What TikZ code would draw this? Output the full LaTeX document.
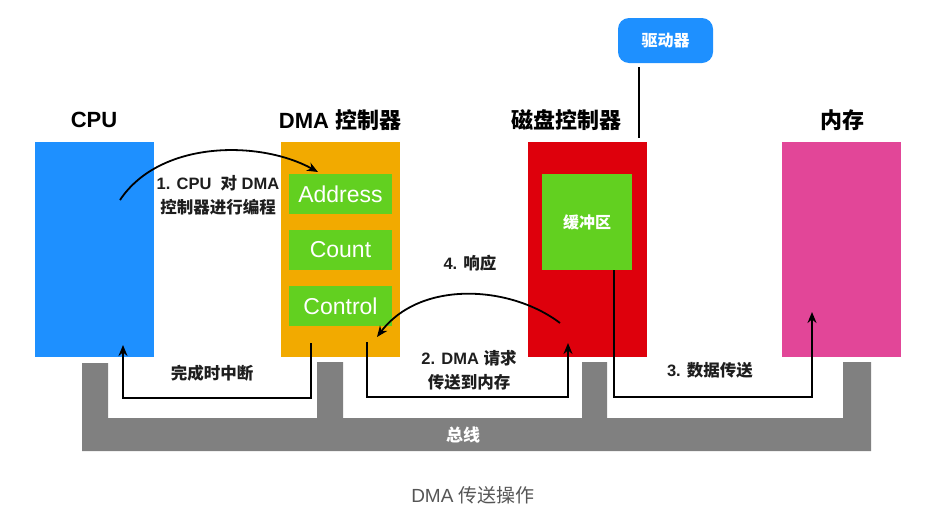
\documentclass[tikz,border=0pt]{standalone}
\usepackage{fontspec}
\setmainfont{Liberation Sans}
\newfontfamily\cjk{Noto Sans CJK SC}
\usepackage{tikz}
\usetikzlibrary{arrows.meta,positioning}
\newcommand{\zh}[1]{{\cjk #1}}
\definecolor{cpublue}{RGB}{30,144,255}
\definecolor{dmaorange}{RGB}{242,170,0}
\definecolor{regleaf}{RGB}{98,208,32}
\definecolor{diskred}{RGB}{222,0,12}
\definecolor{mempink}{RGB}{226,70,152}
\definecolor{busgray}{RGB}{128,128,128}
\definecolor{inkdark}{RGB}{30,30,30}
\definecolor{capgray}{RGB}{85,85,85}

\begin{document}
\begin{tikzpicture}[x=1pt,y=-1pt,
  unit/.style={minimum width=119pt,minimum height=215pt,inner sep=0pt},
  reg/.style={fill=regleaf,minimum width=103pt,minimum height=40pt,inner sep=0pt,text=white,font=\fontsize{23}{26}\selectfont},
  head/.style={font=\fontsize{22}{26}\selectfont\bfseries,text=black},
  lbl/.style={font=\fontsize{16.5}{24}\selectfont\bfseries,text=inkdark,align=center},
  arr/.style={-{Stealth[length=11pt,width=9pt]},line width=1.8pt},
  wire/.style={line width=1.8pt}
]
\useasboundingbox (0,0) rectangle (926,520);

% Bus
\fill[busgray] (82,363) -- (108,363) -- (108,418) -- (317,418) -- (317,362) -- (343,362)
  -- (343,418) -- (582,418) -- (582,362) -- (607,362) -- (607,418) -- (843,418)
  -- (843,362) -- (871,362) -- (871,451) -- (82,451) -- cycle;
\node[font=\fontsize{17}{20}\selectfont\bfseries,text=white] (bus) at (463,435) {\zh{总线}};

% Units
\node[unit,fill=cpublue]   (cpu)  at (94.5,249.5) {};
\node[unit,fill=dmaorange] (dma)  at (340.5,249.5) {};
\node[unit,fill=diskred]   (disk) at (587,249.5) {};
\node[unit,fill=mempink]   (mem)  at (841.5,249.5) {};
\node[head] (cpuh)  at (94,120)  {CPU};
\node[head] (dmah)  at (340,120) {DMA \zh{控制器}};
\node[head] (diskh) at (566,120) {\zh{磁盘控制器}};
\node[head] (memh)  at (842,120) {\zh{内存}};

% Registers / buffer
\node[reg] (addr) at (340.5,194) {Address};
\node[reg] (cnt)  at (340.5,250) {Count};
\node[reg] (ctrl) at (340.5,306) {Control};
\node[fill=regleaf,minimum width=90pt,minimum height=96pt,inner sep=0pt,text=white,
  font=\fontsize{16}{20}\selectfont\bfseries] (buf) at (587,222) {\zh{缓冲区}};

% Driver
\node[fill=cpublue,rounded corners=11pt,minimum width=95pt,minimum height=45pt,text=white,
  font=\fontsize{16}{20}\selectfont\bfseries] (drv) at (665.5,40.5) {\zh{驱动器}};
\draw[wire] ([xshift=-26.5pt,yshift=-4pt]drv.south) -- ([xshift=52pt,yshift=4pt]disk.north);

% Arrow ends
\coordinate (c1s)    at (120,200);
\coordinate (c1e)    at (318,172);
\coordinate (intsrc) at (311,343);
\coordinate (intdst) at (123,345);
\coordinate (reqsrc) at (367,342);
\coordinate (reqdst) at (568,343);
\coordinate (acks)   at (560,323);
\coordinate (acke)   at (377,337);
\coordinate (datas)  at (614,270);
\coordinate (datad)  at (812,312);

% Arrows
\draw[arr] (c1s) .. controls (160,140) and (260,140) .. (c1e);
\draw[arr] (intsrc) -- ++(0,55) -| (intdst);
\draw[arr] (reqsrc) -- ++(0,55) -| (reqdst);
\draw[arr] (acks) .. controls (510,285) and (420,280) .. (acke);
\draw[arr] (datas) -- ++(0,127) -| (datad);

% Labels
\node[lbl] (l1) at (218,195) {1. CPU \ \zh{对} DMA\\\zh{控制器进行编程}};
\node[lbl] (l5) at (212,373) {\zh{完成时中断}};
\node[lbl] (l2) at (469,370) {2. DMA \zh{请求}\\\zh{传送到内存}};
\node[lbl] (l4) at (470,263) {4. \zh{响应}};
\node[lbl] (l3) at (710,370) {3. \zh{数据传送}};

\node[font=\fontsize{19}{22}\selectfont,text=capgray] (cap) at (473,495) {DMA \zh{传送操作}};
\end{tikzpicture}
\end{document}
